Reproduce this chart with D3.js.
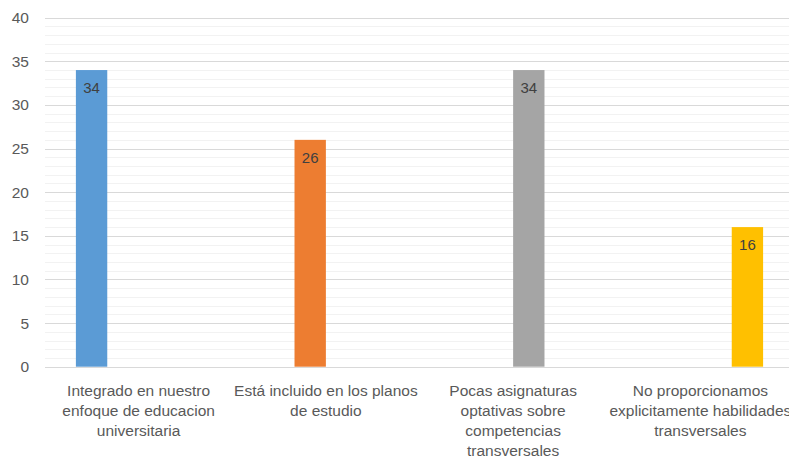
<!DOCTYPE html>
<html><head><meta charset="utf-8">
<script src="https://cdn.jsdelivr.net/npm/d3@7"></script>
<style>body{margin:0;background:#fff;}svg{display:block;}</style>
</head><body><div id="chart"></div>
<script>
const categories = ["Integrado en nuestro enfoque de educacion universitaria","Está incluido en los planos de estudio","Pocas asignaturas optativas sobre competencias transversales","No proporcionamos explicitamente habilidades transversales"];
const categoryLines = [["Integrado en nuestro","enfoque de educacion","universitaria"],["Está incluido en los planos","de estudio"],["Pocas asignaturas","optativas sobre","competencias","transversales"],["No proporcionamos","explicitamente habilidades","transversales"]];
const seriesNames = ["S1","S2","S3","S4"];
const values = [34,26,34,16];
const colors = ["#5B9BD5","#ED7D31","#A5A5A5","#FFC000"];
const yTicks = [0,5,10,15,20,25,30,35,40];

(function(){
const W=789,H=459;
const FONT="'Liberation Sans', Arial, sans-serif";
const svg=d3.select("#chart").append("svg").attr("width",W).attr("height",H);
const mLeft=45, mRight=794, mTop=17.7, mBottom=366.7;
const y=d3.scaleLinear().domain([0,40]).range([mBottom,mTop]);
const x0=d3.scaleBand().domain(categories).range([mLeft,mRight]).paddingInner(0.33).paddingOuter(0.165);
const x1=d3.scaleBand().domain(seriesNames).range([0,x0.bandwidth()]).padding(0);

svg.append("g").selectAll("line").data(d3.range(0,41,1).filter(v=>v%5!==0)).join("line")
  .attr("x1",mLeft).attr("x2",W).attr("y1",d=>Math.round(y(d))+0.5).attr("y2",d=>Math.round(y(d))+0.5)
  .attr("stroke","#f2f2f2").attr("stroke-width",1);
svg.append("g").selectAll("line").data(yTicks).join("line")
  .attr("x1",mLeft).attr("x2",W).attr("y1",d=>Math.round(y(d))+0.5).attr("y2",d=>Math.round(y(d))+0.5)
  .attr("stroke","#d9d9d9").attr("stroke-width",1);

const yAxis=d3.axisLeft(y).tickValues(yTicks).tickSize(0).tickPadding(0);
const ga=svg.append("g").attr("transform",`translate(29,0)`).call(yAxis);
ga.select(".domain").remove();
ga.selectAll("text").attr("fill","#595959").style("font-family",FONT).style("font-size","15.5px");

const bars=svg.append("g");
categories.forEach((c,i)=>{
  const bx=x0(c)+x1(seriesNames[i]);
  bars.append("rect").attr("x",bx).attr("y",y(values[i])).attr("width",x1.bandwidth()).attr("height",y(0)-y(values[i])).attr("fill",colors[i]);
  bars.append("text").attr("x",bx+x1.bandwidth()/2).attr("y",y(values[i])+23).attr("text-anchor","middle")
    .attr("fill","#404040").style("font-family",FONT).style("font-size","15px").text(values[i]);
});

const gl=svg.append("g");
categories.forEach((c,i)=>{
  const cx=x0(c)+x0.bandwidth()/2;
  const t=gl.append("text").attr("text-anchor","middle").attr("fill","#595959")
    .style("font-family",FONT).style("font-size","15.5px");
  categoryLines[i].forEach((l,j)=>{
    t.append("tspan").attr("x",cx).attr("y",395.5+j*20).text(l);
  });
});
})();
</script></body></html>
